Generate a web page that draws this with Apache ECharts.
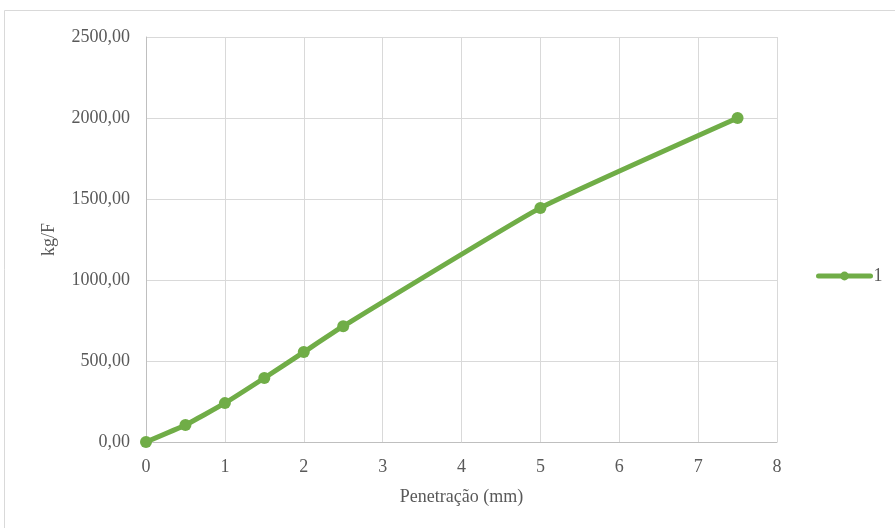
<!DOCTYPE html>
<html>
<head>
<meta charset="utf-8">
<script src="https://cdn.jsdelivr.net/npm/echarts@6/dist/echarts.min.js"></script>
<style>
  html, body { margin: 0; padding: 0; background: #fff; }
  #chart { width: 895px; height: 528px; }
</style>
</head>
<body>
<div id="chart"></div>
<script>
// penetration (mm) vs load (kg/F)
var penetracao = [0, 0.5, 1, 1.5, 2, 2.5, 5, 7.5];
var carga = [0, 105, 240, 395, 555, 715, 1445, 2000];
var serieNome = '1';

var pontos = penetracao.map(function (x, i) { return [x, carga[i]]; });
var cinza = '#595959';
var fonte = '"Liberation Serif", "Times New Roman", serif';

var myChart = echarts.init(document.getElementById('chart'));
myChart.setOption({
    backgroundColor: '#fff',
    animation: false,
    textStyle: { fontFamily: fonte, color: cinza },
    graphic: [{
        type: 'rect',
        shape: { x: 4.5, y: 10.5, width: 900, height: 530 },
        style: { fill: 'none', stroke: '#D9D9D9', lineWidth: 1 },
        silent: true
    }],
    grid: { left: 146, right: 118, top: 37, bottom: 86 },
    legend: {
        data: [serieNome],
        orient: 'vertical',
        left: 811,
        top: 262,
        itemWidth: 52,
        itemHeight: 11,
        itemGap: 4,
        lineStyle: { width: 5 },
        textStyle: { fontFamily: fonte, fontSize: 18, color: cinza, padding: [0, 0, 0, -2] }
    },
    xAxis: {
        type: 'value',
        min: 0, max: 8, interval: 1,
        name: 'Penetração (mm)',
        nameLocation: 'middle',
        nameGap: 46,
        nameTextStyle: { fontFamily: fonte, fontSize: 18, color: cinza },
        axisLine: { show: true, lineStyle: { color: '#BFBFBF', width: 1 } },
        axisTick: { show: false },
        axisLabel: { fontFamily: fonte, fontSize: 18, color: cinza, margin: 16 },
        splitLine: { show: true, lineStyle: { color: '#D9D9D9', width: 1 } }
    },
    yAxis: {
        type: 'value',
        min: 0, max: 2500, interval: 500,
        name: 'kg/F',
        nameLocation: 'middle',
        nameGap: 88,
        nameRotate: 90,
        nameTextStyle: { fontFamily: fonte, fontSize: 18, color: cinza },
        axisLine: { show: true, lineStyle: { color: '#BFBFBF', width: 1 } },
        axisTick: { show: false },
        axisLabel: {
            fontFamily: fonte, fontSize: 18, color: cinza, margin: 16,
            formatter: function (v) { return v.toFixed(2).replace('.', ','); }
        },
        splitLine: { show: true, lineStyle: { color: '#D9D9D9', width: 1 } }
    },
    series: [{
        name: serieNome,
        type: 'line',
        data: pontos,
        smooth: 0.12,
        symbol: 'circle',
        symbolSize: 12,
        itemStyle: { color: '#70AD47' },
        lineStyle: { color: '#70AD47', width: 5, cap: 'round' }
    }]
});
</script>
</body>
</html>
